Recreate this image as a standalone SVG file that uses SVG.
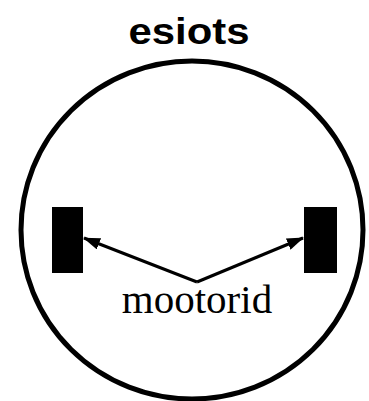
<svg xmlns="http://www.w3.org/2000/svg" width="369" height="401" viewBox="0 0 369 401">
<style>
.title{font-family:"Liberation Sans",Arial,sans-serif;font-weight:bold;font-size:37px;fill:#000}
.lbl{font-family:"Liberation Serif","Times New Roman",serif;font-size:41px;fill:#000}
.motor{fill:#000}
.conn{stroke:#000;stroke-width:3;fill:none}
</style>
<defs>
<marker id="ah" markerWidth="17" markerHeight="12" refX="16" refY="6" orient="auto" markerUnits="userSpaceOnUse">
<path d="M0,0 L17,6 L0,12 Z" fill="#000"/>
</marker>
</defs>
<g id="title"><text class="title" x="189" y="44" text-anchor="middle" textLength="121" lengthAdjust="spacingAndGlyphs">esiots</text></g>
<g id="body"><ellipse cx="192" cy="230" rx="171" ry="169" fill="none" stroke="#000" stroke-width="5"/></g>
<g id="motor-left"><rect class="motor" x="52" y="207" width="31" height="66"/></g>
<g id="motor-right"><rect class="motor" x="304" y="207" width="33" height="66"/></g>
<g id="connectors">
<line class="conn" x1="197" y1="282" x2="84" y2="238" marker-end="url(#ah)"/>
<line class="conn" x1="197" y1="282" x2="303" y2="238" marker-end="url(#ah)"/>
</g>
<g id="label"><text class="lbl" x="197" y="313" text-anchor="middle">mootorid</text></g>
</svg>
